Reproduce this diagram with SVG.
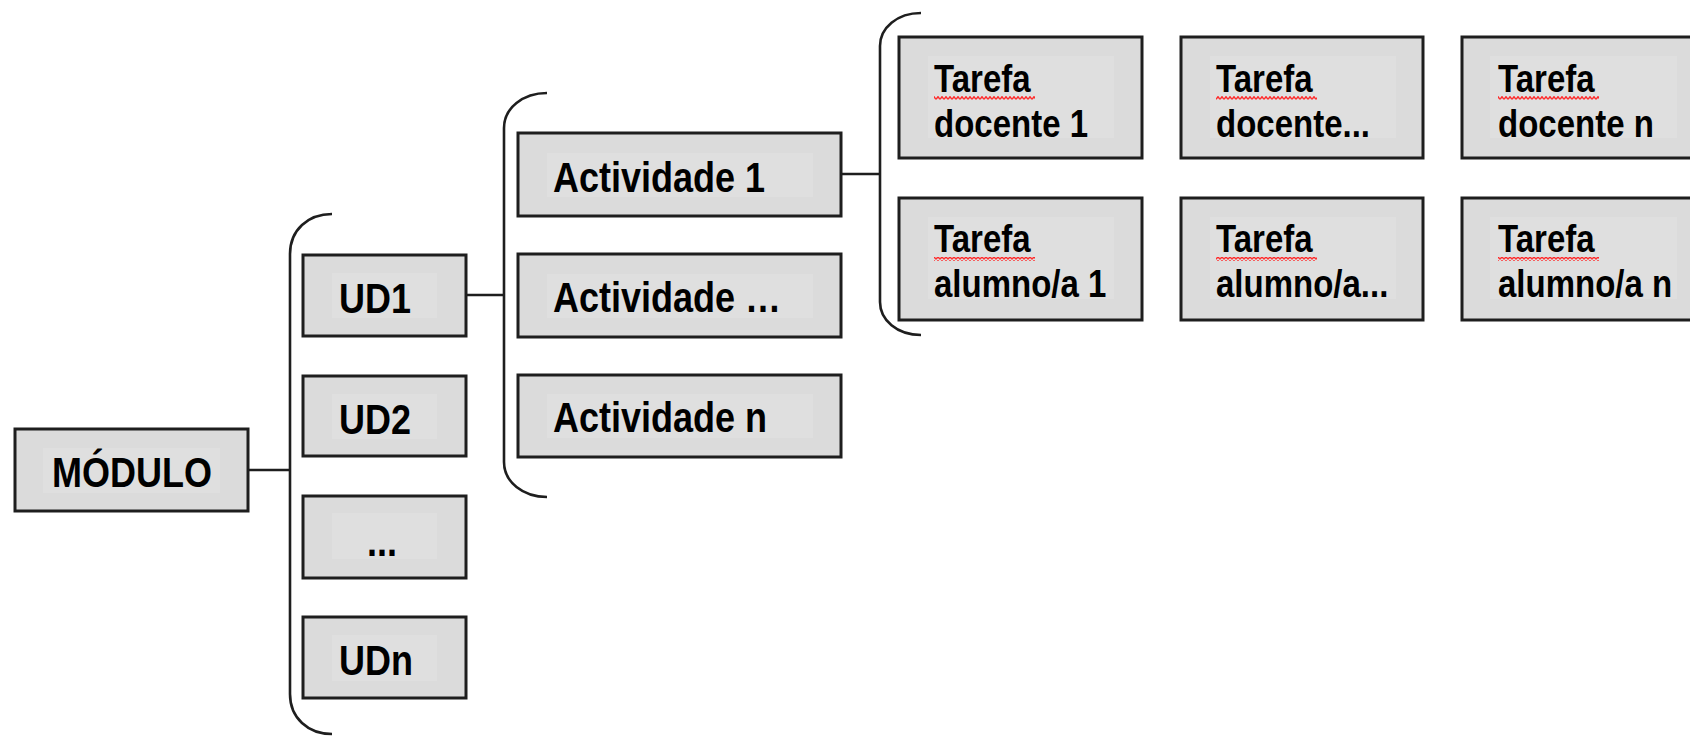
<svg xmlns="http://www.w3.org/2000/svg" width="1690" height="737" viewBox="0 0 1690 737">
<style>
.box{fill:#dbdbdb;stroke:#1e1e1e;stroke-width:3}
.inner{fill:#dfdfdf;stroke:none}
.t{font-family:"Liberation Sans",Arial,sans-serif;font-weight:bold;font-size:36px;fill:#000}
.s{font-family:"Liberation Sans",Arial,sans-serif;font-weight:bold;font-size:33px;fill:#000}
.ln{fill:none;stroke:#1e1e1e;stroke-width:2.6}
.wavy{fill:url(#zig)}
</style>
<defs>
<pattern id="zig" patternUnits="userSpaceOnUse" x="0" y="0" width="4" height="4">
<path d="M0,3.3 L2,0.7 L4,3.3" fill="none" stroke="#ff2a2a" stroke-width="1.4"/>
</pattern>
</defs>
<rect width="1690" height="737" fill="#fff"/>
<g id="connectors">
<path class="ln" d="M248,470 H290"/>
<path class="ln" d="M332,214 C308,214 290,230 290,254 V694 C290,718 308,734 332,734"/>
<path class="ln" d="M466,295 H504"/>
<path class="ln" d="M547,93 C523,93 504,108 504,128 V462 C504,482 523,497 547,497"/>
<path class="ln" d="M841,174 H880"/>
<path class="ln" d="M921,13 C897,13 880,28 880,46 V302 C880,320 897,335 921,335"/>
</g>
<g id="modulo">
<rect class="box" x="15" y="429" width="233" height="82"/>
<rect class="inner" x="43" y="448" width="177" height="45"/>
<text class="t" transform="translate(52,487) scale(1,1.17)">MÓDULO</text>
</g>
<g id="ud1">
<rect class="box" x="303" y="255" width="163" height="81"/>
<rect class="inner" x="332" y="273" width="105" height="45"/>
<text class="t" transform="translate(339,313) scale(1,1.18)">UD1</text>
</g>
<g id="ud2">
<rect class="box" x="303" y="376" width="163" height="80"/>
<rect class="inner" x="332" y="394" width="105" height="45"/>
<text class="t" transform="translate(339,434) scale(1,1.18)">UD2</text>
</g>
<g id="ud-dots">
<rect class="box" x="303" y="496" width="163" height="82"/>
<rect class="inner" x="332" y="513" width="105" height="46"/>
<text class="t" transform="translate(367,556) scale(1,1.18)">...</text>
</g>
<g id="udn">
<rect class="box" x="303" y="617" width="163" height="81"/>
<rect class="inner" x="332" y="635" width="105" height="46"/>
<text class="t" transform="translate(339,675) scale(1,1.18)">UDn</text>
</g>
<g id="act1">
<rect class="box" x="518" y="133" width="323" height="83"/>
<rect class="inner" x="547" y="153" width="266" height="44"/>
<text class="t" transform="translate(553,192) scale(1,1.16)">Actividade 1</text>
</g>
<g id="act-dots">
<rect class="box" x="518" y="254" width="323" height="83"/>
<rect class="inner" x="547" y="274" width="266" height="44"/>
<text class="t" transform="translate(553,312) scale(1,1.16)">Actividade …</text>
</g>
<g id="actn">
<rect class="box" x="518" y="375" width="323" height="82"/>
<rect class="inner" x="547" y="394" width="266" height="44"/>
<text class="t" transform="translate(553,432) scale(1,1.16)">Actividade n</text>
</g>
<g id="td1">
<rect class="box" x="899" y="37" width="243" height="121"/>
<rect class="inner" x="928" y="56" width="186" height="82"/>
<text class="s" transform="translate(934,92) scale(1,1.18)">Tarefa</text>
<rect class="wavy" x="934" y="96" width="101" height="4"/>
<text class="s" transform="translate(934,137) scale(1,1.18)">docente 1</text>
</g>
<g id="td2">
<rect class="box" x="1181" y="37" width="242" height="121"/>
<rect class="inner" x="1210" y="56" width="186" height="82"/>
<text class="s" transform="translate(1216,92) scale(1,1.18)">Tarefa</text>
<rect class="wavy" x="1216" y="96" width="101" height="4"/>
<text class="s" transform="translate(1216,137) scale(1,1.18)">docente...</text>
</g>
<g id="tdn">
<rect class="box" x="1462" y="37" width="242" height="121"/>
<rect class="inner" x="1490" y="56" width="187" height="82"/>
<text class="s" transform="translate(1498,92) scale(1,1.18)">Tarefa</text>
<rect class="wavy" x="1498" y="96" width="101" height="4"/>
<text class="s" transform="translate(1498,137) scale(1,1.18)">docente n</text>
</g>
<g id="ta1">
<rect class="box" x="899" y="198" width="243" height="122"/>
<rect class="inner" x="928" y="217" width="186" height="82"/>
<text class="s" transform="translate(934,252) scale(1,1.18)">Tarefa</text>
<rect class="wavy" x="934" y="257" width="101" height="4"/>
<text class="s" transform="translate(934,297) scale(1,1.18)">alumno/a 1</text>
</g>
<g id="ta2">
<rect class="box" x="1181" y="198" width="242" height="122"/>
<rect class="inner" x="1210" y="217" width="186" height="82"/>
<text class="s" transform="translate(1216,252) scale(1,1.18)">Tarefa</text>
<rect class="wavy" x="1216" y="257" width="101" height="4"/>
<text class="s" transform="translate(1216,297) scale(1,1.18)">alumno/a...</text>
</g>
<g id="tan">
<rect class="box" x="1462" y="198" width="242" height="122"/>
<rect class="inner" x="1490" y="217" width="187" height="82"/>
<text class="s" transform="translate(1498,252) scale(1,1.18)">Tarefa</text>
<rect class="wavy" x="1498" y="257" width="101" height="4"/>
<text class="s" transform="translate(1498,297) scale(1,1.18)">alumno/a n</text>
</g>
</svg>
